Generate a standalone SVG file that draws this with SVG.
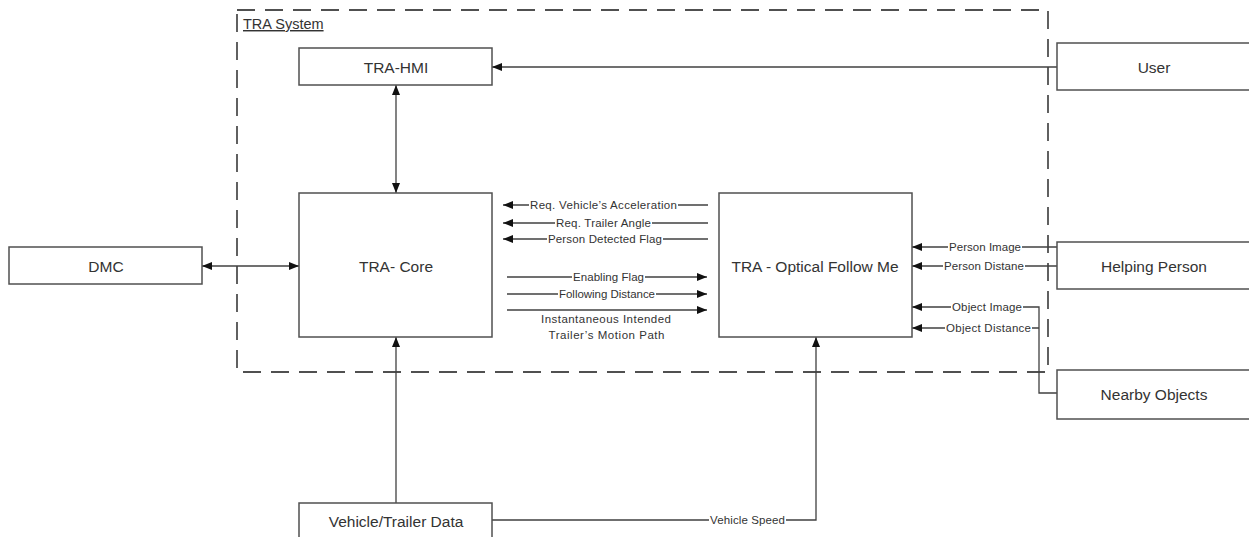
<svg xmlns="http://www.w3.org/2000/svg" width="1249" height="537" viewBox="0 0 1249 537">
<style>
.box{fill:#fff;stroke:#505050;stroke-width:1.5}
.bt{font-family:"Liberation Sans",Arial,sans-serif;font-size:15.5px;fill:#333;text-anchor:middle;dominant-baseline:central}
.lt{font-family:"Liberation Sans",Arial,sans-serif;font-size:11.5px;fill:#333;text-anchor:middle;dominant-baseline:central}
.ln{fill:none;stroke:#404040;stroke-width:1.3}
.bg{fill:#fff}
</style>
<defs>
<marker id="ah" viewBox="0 0 10 8" refX="10" refY="4" markerWidth="10" markerHeight="8" markerUnits="userSpaceOnUse" orient="auto-start-reverse">
<path d="M0,0 L10,4 L0,8 z" fill="#111"/>
</marker>
</defs>
<g id="boundary">
<rect x="237" y="10" width="811" height="362" fill="none" stroke="#505050" stroke-width="1.8" stroke-dasharray="18,10"/>
<text x="243" y="29" font-family="Liberation Sans,Arial,sans-serif" font-size="14.5" fill="#333" text-decoration="underline">TRA System</text>
</g>
<g id="connectors">
<line class="ln" x1="1057" y1="67" x2="492" y2="67" marker-end="url(#ah)"/>
<line class="ln" x1="396" y1="85" x2="396" y2="193" marker-start="url(#ah)" marker-end="url(#ah)"/>
<line class="ln" x1="202" y1="266" x2="299" y2="266" marker-start="url(#ah)" marker-end="url(#ah)"/>
<line class="ln" x1="396" y1="503" x2="396" y2="337" marker-end="url(#ah)"/>
<polyline class="ln" points="492,520 816,520 816,337" marker-end="url(#ah)"/>
<line class="ln" x1="708" y1="205" x2="503" y2="205" marker-end="url(#ah)"/>
<line class="ln" x1="708" y1="223" x2="503" y2="223" marker-end="url(#ah)"/>
<line class="ln" x1="708" y1="239" x2="503" y2="239" marker-end="url(#ah)"/>
<line class="ln" x1="507" y1="277" x2="707" y2="277" marker-end="url(#ah)"/>
<line class="ln" x1="507" y1="294" x2="707" y2="294" marker-end="url(#ah)"/>
<line class="ln" x1="507" y1="310" x2="707" y2="310" marker-end="url(#ah)"/>
<line class="ln" x1="1057" y1="247" x2="912" y2="247" marker-end="url(#ah)"/>
<line class="ln" x1="1057" y1="266" x2="912" y2="266" marker-end="url(#ah)"/>
<polyline class="ln" points="1057,393 1039,393 1039,307 912,307" marker-end="url(#ah)"/>
<line class="ln" x1="1039" y1="328" x2="912" y2="328" marker-end="url(#ah)"/>
<rect class="bg" x="529" y="198" width="149" height="14"/>
<text class="lt" x="603.5" y="205" textLength="147">Req. Vehicle’s Acceleration</text>
<rect class="bg" x="555" y="216" width="97" height="14"/>
<text class="lt" x="603.5" y="223" textLength="95">Req. Trailer Angle</text>
<rect class="bg" x="547" y="232" width="116" height="14"/>
<text class="lt" x="605" y="239" textLength="114">Person Detected Flag</text>
<rect class="bg" x="572" y="270" width="73" height="14"/>
<text class="lt" x="608.5" y="277" textLength="71">Enabling Flag</text>
<rect class="bg" x="558" y="287" width="98" height="14"/>
<text class="lt" x="607" y="294" textLength="96">Following Distance</text>
<text class="lt" x="606" y="319" textLength="130">Instantaneous Intended</text>
<text class="lt" x="606.5" y="335" textLength="116">Trailer’s Motion Path</text>
<rect class="bg" x="948" y="240" width="74" height="14"/>
<text class="lt" x="985" y="247" textLength="72">Person Image</text>
<rect class="bg" x="943" y="259" width="82" height="14"/>
<text class="lt" x="984" y="266" textLength="80">Person Distane</text>
<rect class="bg" x="951" y="300" width="72" height="14"/>
<text class="lt" x="987" y="307" textLength="70">Object Image</text>
<rect class="bg" x="945" y="321" width="87" height="14"/>
<text class="lt" x="988.5" y="328" textLength="85">Object Distance</text>
<rect class="bg" x="709" y="513" width="77" height="14"/>
<text class="lt" x="747.5" y="520" textLength="75">Vehicle Speed</text>
</g>
<g id="hmi"><rect class="box" x="299" y="48" width="193" height="37"/><text class="bt" x="396" y="67">TRA-HMI</text></g>
<g id="user"><rect class="box" x="1057" y="43" width="194" height="47"/><text class="bt" x="1154" y="67">User</text></g>
<g id="core"><rect class="box" x="299" y="193" width="193" height="144"/><text class="bt" x="396" y="266">TRA- Core</text></g>
<g id="optical"><rect class="box" x="719" y="193" width="193" height="144"/><text class="bt" x="815" y="266">TRA - Optical Follow Me</text></g>
<g id="dmc"><rect class="box" x="9" y="247" width="193" height="37"/><text class="bt" x="106" y="266">DMC</text></g>
<g id="helping"><rect class="box" x="1057" y="242" width="194" height="47"/><text class="bt" x="1154" y="266">Helping Person</text></g>
<g id="nearby"><rect class="box" x="1057" y="370" width="194" height="49"/><text class="bt" x="1154" y="394">Nearby Objects</text></g>
<g id="vtd"><rect class="box" x="299" y="503" width="193" height="40"/><text class="bt" x="396" y="521">Vehicle/Trailer Data</text></g>
</svg>
